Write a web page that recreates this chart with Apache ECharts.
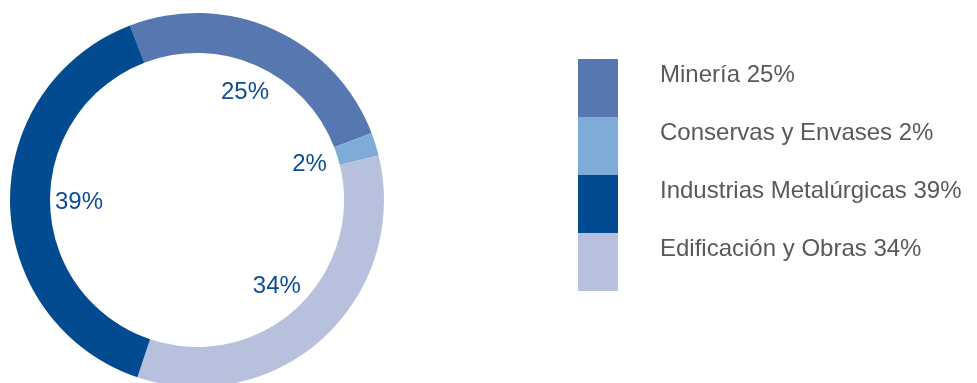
<!DOCTYPE html>
<html>
<head>
<meta charset="utf-8">
<script src="https://cdn.jsdelivr.net/npm/echarts@6/dist/echarts.min.js"></script>
<style>
html,body{margin:0;padding:0;background:#fff;}
#chart{width:977px;height:383px;}
</style>
</head>
<body>
<div id="chart"></div>
<script>
// Ring order (clockwise from top-left)
const categories = ['Minería', 'Conservas y Envases', 'Edificación y Obras', 'Industrias Metalúrgicas'];
const values = [25, 2, 34, 39];
const colors = ['#5677b0', '#7eacd6', '#b7c1de', '#034b91'];
// Legend order
const legendOrder = ['Minería', 'Conservas y Envases', 'Industrias Metalúrgicas', 'Edificación y Obras'];

const chart = echarts.init(document.getElementById('chart'), null, {renderer: 'canvas'});

const ringData = categories.map((c, i) => ({name: c, value: values[i], itemStyle: {color: colors[i]}}));
const labelData = categories.map((c, i) => ({name: c, value: values[i]}));

const option = {
  animation: false,
  backgroundColor: '#ffffff',
  legend: {
    orient: 'vertical',
    left: 578,
    top: 59,
    padding: 0,
    itemWidth: 40,
    itemHeight: 58,
    itemGap: 0,
    icon: 'rect',
    selectedMode: false,
    data: legendOrder,
    formatter: function (name) {
      const i = categories.indexOf(name);
      return '{a|' + name + ' ' + values[i] + '%}\n{b| }';
    },
    textStyle: {
      fontFamily: 'Liberation Sans, Arial, sans-serif',
      fontSize: 24,
      color: '#58595b',
      padding: [0, 0, 0, 37],
      rich: {
        a: {fontFamily: 'Liberation Sans, Arial, sans-serif', fontSize: 24, color: '#58595b', lineHeight: 25},
        b: {fontSize: 24, lineHeight: 25}
      }
    }
  },
  series: [
    {
      type: 'pie',
      center: [197, 200],
      radius: [147, 187],
      startAngle: 111,
      clockwise: true,
      silent: true,
      label: {show: false},
      labelLine: {show: false},
      itemStyle: {borderWidth: 0},
      data: ringData
    },
    {
      type: 'pie',
      center: [197, 200],
      radius: [0, 230],
      startAngle: 111,
      clockwise: true,
      silent: true,
      legendHoverLink: false,
      itemStyle: {color: 'rgba(0,0,0,0)', borderWidth: 0},
      label: {
        show: true,
        position: 'inside',
        formatter: '{c}%',
        fontFamily: 'Liberation Sans, Arial, sans-serif',
        fontSize: 24,
        color: '#0d4c96'
      },
      labelLine: {show: false},
      data: labelData
    }
  ]
};
chart.setOption(option);
</script>
</body>
</html>
